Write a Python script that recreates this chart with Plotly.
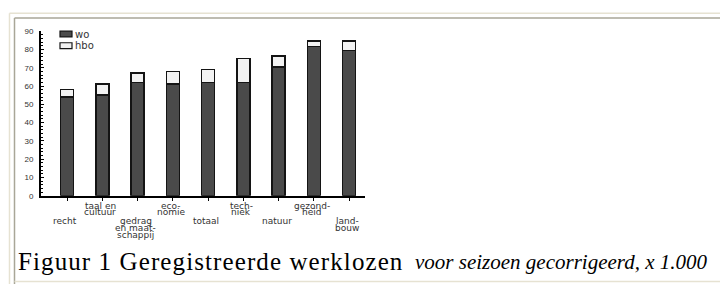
import plotly.graph_objects as go

W, H = 720, 289

categories = ["recht", "taal en cultuur", "gedrag en maatschappij", "economie", "totaal",
              "techniek", "natuur", "gezondheid", "landbouw"]
tick_labels = ["recht", "taal en\ncultuur", "gedrag\nen maat-\nschappij", "eco-\nnomie", "totaal",
               "tech-\nniek", "natuur", "gezond-\nheid", "land-\nbouw"]
wo = [54, 55, 62, 61, 62, 62, 70.5, 81.5, 79.5]
hbo = [4, 6, 5, 7, 7, 13, 6, 3, 5]
y_ticks = [0, 10, 20, 30, 40, 50, 60, 70, 80, 90]
series_names = ["wo", "hbo"]
caption_plain = "Figuur 1 Geregistreerde werklozen"
caption_italic = "voor seizoen gecorrigeerd, x 1.000"


def px(x):
    return x / W


def py(y):
    return 1 - y / H


fig = go.Figure()
line_style = dict(color="#141414", width=1.5)
fig.add_trace(go.Bar(x=categories, y=wo, name=series_names[0], width=0.37,
                     marker=dict(color="#4a4a4a", line=line_style)))
fig.add_trace(go.Bar(x=categories, y=hbo, name=series_names[1], width=0.37,
                     marker=dict(color="#f2f2f2", line=line_style)))

shapes = []
# page frame
frame_light = "#e6e2d2"
frame_dark = "#a9a697"
shapes += [
    dict(type="line", xref="paper", yref="paper", x0=px(9.5), x1=px(720), y0=py(9.5), y1=py(9.5),
         line=dict(color=frame_light, width=1.5)),
    dict(type="line", xref="paper", yref="paper", x0=px(9.5), x1=px(9.5), y0=py(9.5), y1=py(289),
         line=dict(color=frame_light, width=1.5)),
    dict(type="line", xref="paper", yref="paper", x0=px(14.5), x1=px(720), y0=py(14.5), y1=py(14.5),
         line=dict(color=frame_dark, width=1.5)),
    dict(type="line", xref="paper", yref="paper", x0=px(14.5), x1=px(14.5), y0=py(14.5), y1=py(289),
         line=dict(color=frame_dark, width=1.5)),
    dict(type="line", xref="paper", yref="paper", x0=px(14.5), x1=px(720), y0=py(286.5), y1=py(286.5),
         line=dict(color=frame_light, width=1.5)),
]
# legend swatches
legend_fill = ["#4a4a4a", "#f2f2f2"]
for k, name in enumerate(series_names):
    top = 28 + 12 * k
    shapes.append(dict(type="rect", xref="paper", yref="paper", x0=px(60), x1=px(72),
                       y0=py(top), y1=py(top + 6), fillcolor=legend_fill[k],
                       line=dict(color="#141414", width=1.2)))

annotations = []
for k, name in enumerate(series_names):
    annotations.append(dict(text=name, xref="paper", yref="paper", x=px(73), y=py(31 + 12 * k),
                            xanchor="left", yanchor="middle", showarrow=False,
                            font=dict(family="DejaVu Sans", size=10, color="#333")))

for i, lab in enumerate(tick_labels):
    base = 208 if i % 2 == 1 else 224
    for j, ln in enumerate(lab.split("\n")):
        annotations.append(dict(text=ln, xref="x", yref="paper", x=categories[i], y=py(base + 7 * j),
                                xanchor="center", yanchor="middle", xshift=-2, showarrow=False,
                                font=dict(family="DejaVu Sans", size=9, color="#333")))

annotations.append(dict(text='<span style="letter-spacing:1.1px">' + caption_plain + "</span>",
                        xref="paper", yref="paper",
                        x=px(16), y=py(266), xanchor="left", yanchor="middle", showarrow=False,
                        font=dict(family="Liberation Serif", size=25, color="#000")))
annotations.append(dict(text="<i>" + caption_italic + "</i>", xref="paper", yref="paper",
                        x=px(413), y=py(266), xanchor="left", yanchor="middle", showarrow=False,
                        font=dict(family="Liberation Serif", size=21, color="#000")))

fig.update_layout(
    width=W, height=H, margin=dict(l=0, r=0, t=0, b=0),
    paper_bgcolor="white", plot_bgcolor="white",
    barmode="stack", showlegend=False,
    shapes=shapes, annotations=annotations,
    xaxis=dict(type="category", categoryorder="array", categoryarray=categories,
               range=[-0.74, 8.45], domain=[px(41), px(365)],
               showline=True, linecolor="#000", linewidth=2, ticks="outside", ticklen=3,
               tickcolor="#000", showticklabels=False, showgrid=False, zeroline=False),
    yaxis=dict(range=[0, 90], domain=[py(198), py(28)], tickvals=y_ticks,
               showline=True, linecolor="#000", linewidth=2, ticks="inside", ticklen=3,
               tickcolor="#000", showgrid=False, zeroline=False, ticklabelstandoff=4,
               tickfont=dict(family="Liberation Sans", size=8, color="#333"),
               minor=dict(dtick=2, ticks="inside", ticklen=2, tickcolor="#000")),
)

fig.write_html("out.html", config={"displayModeBar": False},
               post_script="document.body.style.margin='0';document.body.style.overflow='hidden';")
